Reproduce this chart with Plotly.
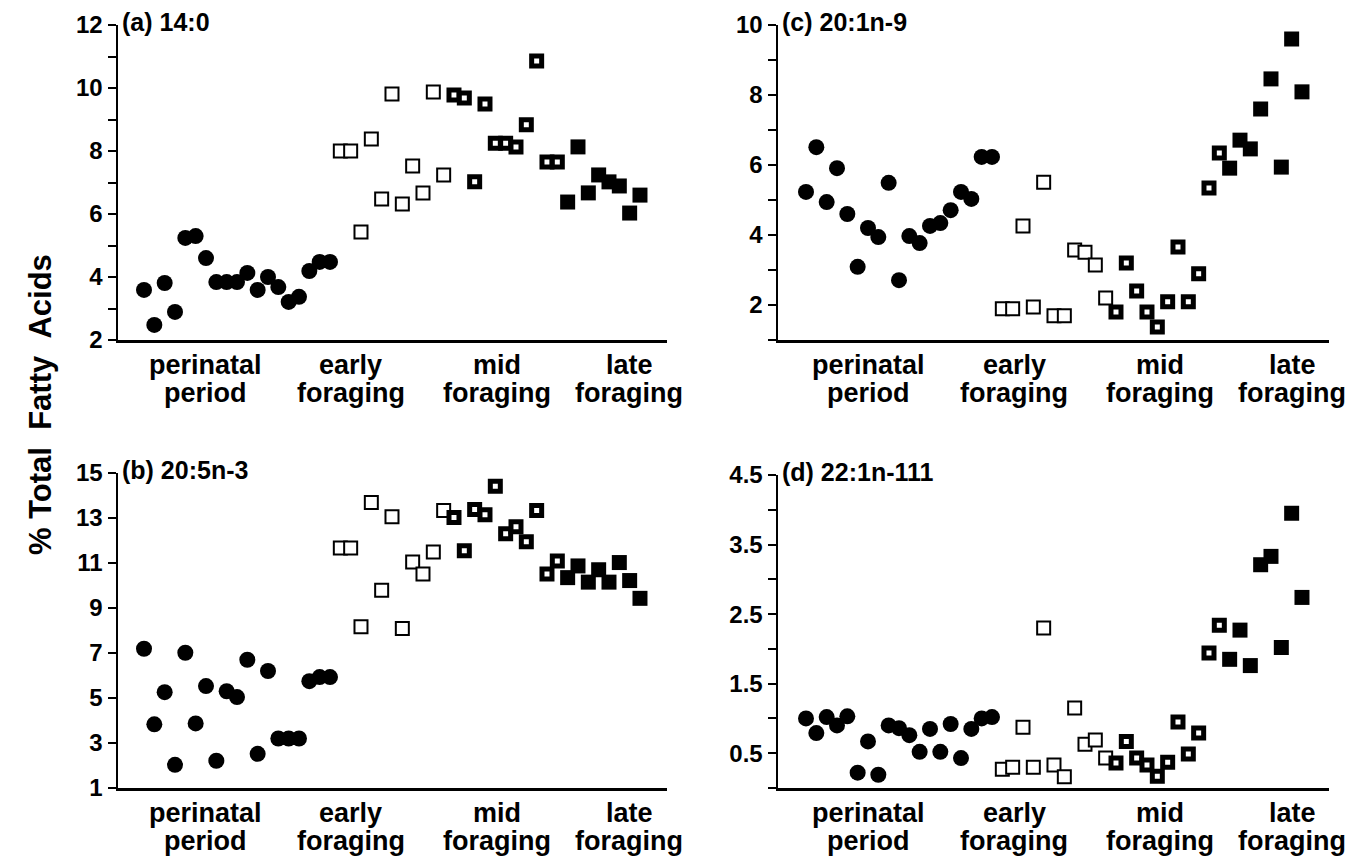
import plotly.graph_objects as go
import numpy as np

W, H = 1365, 856

# ---------------- data ----------------
group_lines = [["perinatal", "period"], ["early", "foraging"], ["mid", "foraging"], ["late", "foraging"]]

# (a) 14:0
circ_a = [3.59, 2.48, 3.81, 2.89, 5.24, 5.30, 4.60, 3.84, 3.84, 3.84, 4.13, 3.59, 4.00, 3.68, 3.21, 3.37, 4.19, 4.48, 4.48]
early_a = [8.0, 8.0, 5.43, 8.38, 6.48, 9.81, 6.32, 7.52, 6.67, 9.87, 7.24]
mid_a = [9.78, 9.68, 7.02, 9.49, 8.25, 8.25, 8.13, 8.83, 10.86, 7.65, 7.65]
late_a = [6.38, 8.13, 6.67, 7.24, 7.02, 6.89, 6.03, 6.60]

# (b) 20:5n-3
circ_b = [7.19, 3.83, 5.26, 2.03, 7.01, 3.87, 5.53, 2.21, 5.30, 5.04, 6.70, 2.52, 6.20, 3.20, 3.20, 3.20, 5.75, 5.93, 5.93]
early_b = [11.67, 11.67, 8.17, 13.69, 9.79, 13.06, 8.09, 11.04, 10.51, 11.49, 13.33]
mid_b = [13.02, 11.54, 13.38, 13.15, 14.41, 12.30, 12.61, 11.94, 13.33, 10.51, 11.09]
late_b = [10.35, 10.87, 10.15, 10.70, 10.15, 11.02, 10.22, 9.43]

# (c) 20:1n-9
circ_c = [5.23, 6.51, 4.94, 5.91, 4.60, 3.09, 4.20, 3.94, 5.49, 2.71, 3.97, 3.77, 4.26, 4.34, 4.71, 5.23, 5.03, 6.23, 6.23]
early_c = [1.89, 1.89, 4.26, 1.94, 5.51, 1.69, 1.69, 3.57, 3.51, 3.14, 2.20]
mid_c = [1.80, 3.20, 2.40, 1.80, 1.37, 2.09, 3.66, 2.09, 2.89, 5.34, 6.34]
late_c = [5.91, 6.71, 6.46, 7.60, 8.46, 5.94, 9.60, 8.09]

# (d) 22:1n-111
circ_d = [1.00, 0.79, 1.02, 0.90, 1.03, 0.22, 0.67, 0.19, 0.90, 0.86, 0.76, 0.52, 0.85, 0.52, 0.92, 0.43, 0.85, 1.00, 1.02]
early_d = [0.27, 0.30, 0.875, 0.30, 2.30, 0.33, 0.16, 1.15, 0.63, 0.69, 0.43]
mid_d = [0.36, 0.67, 0.43, 0.33, 0.17, 0.37, 0.95, 0.49, 0.79, 1.94, 2.34]
late_d = [1.85, 2.27, 1.76, 3.21, 3.33, 2.02, 3.95, 2.74]

ticks_a = [2, 3, 4, 5, 6, 7, 8, 9, 10, 11, 12]
labels_a = ["2", "", "4", "", "6", "", "8", "", "10", "", "12"]
ticks_b = [1, 3, 5, 7, 9, 11, 13, 15]
labels_b = ["1", "3", "5", "7", "9", "11", "13", "15"]
ticks_c = [1, 2, 3, 4, 5, 6, 7, 8, 9, 10]
labels_c = ["", "2", "", "4", "", "6", "", "8", "", "10"]
ticks_d = [0, 0.5, 1, 1.5, 2, 2.5, 3, 3.5, 4, 4.5]
labels_d = ["", "0.5", "", "1.5", "", "2.5", "", "3.5", "", "4.5"]

FONT = "Liberation Sans, Arial, Helvetica, sans-serif"

# ---------------- panel geometry (pixels) ----------------
def px_x(x):
    return x / W

def px_y(y):
    return 1 - y / H

panels = [
    ("", "(a) 14:0", (circ_a, early_a, mid_a, late_a), (118, 667), (25, 340), (2, 12), ticks_a, labels_a),
    ("2", "(c) 20:1n-9", (circ_c, early_c, mid_c, late_c), (778, 1329), (25, 340), (1, 10), ticks_c, labels_c),
    ("3", "(b) 20:5n-3", (circ_b, early_b, mid_b, late_b), (118, 667), (473, 788), (1, 15), ticks_b, labels_b),
    ("4", "(d) 22:1n-111", (circ_d, early_d, mid_d, late_d), (778, 1329), (475, 788), (0, 4.5), ticks_d, labels_d),
]

first_pt = {"": 144, "2": 806, "3": 144, "4": 806}
SPACING = 10.333

marker_styles = [
    dict(symbol="circle", size=16, color="black", line=dict(width=0)),
    dict(symbol="square", size=13, color="white", line=dict(width=2, color="black")),
    dict(symbol="square", size=10, color="white", line=dict(width=5, color="black")),
    dict(symbol="square", size=15, color="black", line=dict(width=0)),
]

fig = go.Figure()
layout = dict(
    template="none",
    width=W, height=H,
    margin=dict(l=0, r=0, t=0, b=0, autoexpand=False),
    paper_bgcolor="white", plot_bgcolor="white",
    showlegend=False,
    font=dict(family=FONT, color="black"),
)
annotations = []

for key, title, series, (x0, x1), (y0, y1), yr, tv, tt in panels:
    start = 0
    for vals, style in zip(series, marker_styles):
        n = len(vals)
        xs = np.arange(start, start + n)
        fig.add_trace(go.Scatter(
            x=xs, y=vals, mode="markers", marker=style,
            xaxis="x" + key, yaxis="y" + key, cliponaxis=False, hoverinfo="skip"))
        start += n
    fp = first_pt[key]
    xrange = [(x0 - fp) / SPACING, (x1 - fp) / SPACING]
    layout["xaxis" + key] = dict(
        domain=[px_x(x0), px_x(x1)], range=xrange, anchor="y" + key, automargin=False,
        showline=True, linewidth=2.5, linecolor="black", showgrid=False,
        zeroline=False, showticklabels=False, ticks="")
    layout["yaxis" + key] = dict(
        domain=[px_y(y1), px_y(y0)], range=list(yr), anchor="x" + key, automargin=False,
        showline=True, linewidth=2.5, linecolor="black", showgrid=False,
        zeroline=False, ticks="outside", ticklen=8, tickwidth=2, tickcolor="black",
        tickmode="array", tickvals=tv, ticktext=["<b>" + t + "</b>" if t else "" for t in tt],
        tickfont=dict(family=FONT, size=24, color="black"))
    # panel title
    annotations.append(dict(
        x=px_x(x0 + 2), y=px_y(y0 - 3), xref="paper", yref="paper",
        text="<b>" + title + "</b>", showarrow=False, xanchor="left", yanchor="middle",
        font=dict(family=FONT, size=25, color="black")))
    # group labels
    centers = [87, 233, 379, 511]
    base = y1 + 25
    for c, lines in zip(centers, group_lines):
        for i, ln in enumerate(lines):
            annotations.append(dict(
                x=px_x(x0 + c + (3 if key in ("2", "4") else 0)), y=px_y(base + i * 28),
                xref="paper", yref="paper", text="<b>" + ln + "</b>", showarrow=False,
                xanchor="center", yanchor="middle",
                font=dict(family=FONT, size=27, color="black")))

annotations.append(dict(
    x=px_x(40), y=px_y(405), xref="paper", yref="paper",
    text="<b>%\u00a0Total\u00a0\u00a0Fatty\u00a0\u00a0Acids</b>", textangle=-90, showarrow=False,
    xanchor="center", yanchor="middle", font=dict(family=FONT, size=31, color="black")))

layout["annotations"] = annotations
fig.update_layout(**layout)
fig.write_html(
    "out.html",
    config={"displayModeBar": False, "staticPlot": True},
    post_script="document.body.style.margin='0';document.body.style.overflow='hidden';",
)
